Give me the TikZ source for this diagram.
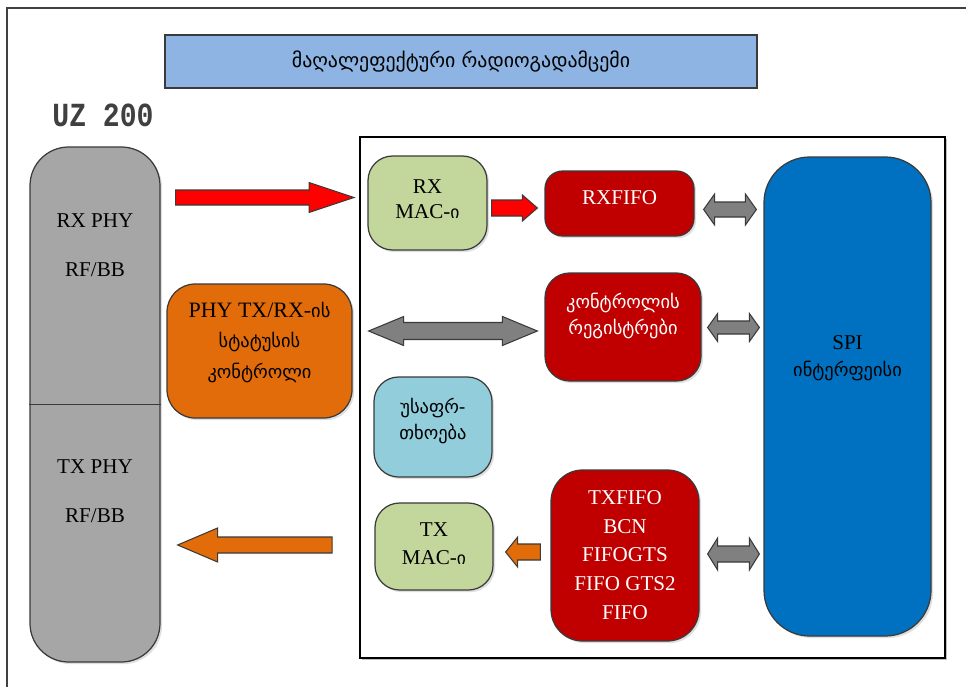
\documentclass[tikz,border=0pt]{standalone}
\usepackage{fontspec}
\setmainfont{Liberation Serif}
\newfontfamily\geo{DejaVu Sans}
\newfontfamily\monob{Liberation Mono}
\usetikzlibrary{calc,shadows}

\definecolor{titleblue}{HTML}{8DB4E2}
\definecolor{phygrey}{HTML}{A6A6A6}
\definecolor{statusorange}{HTML}{E36C0A}
\definecolor{macgreen}{HTML}{C3D69B}
\definecolor{fifored}{HTML}{C00000}
\definecolor{secblue}{HTML}{92CDDC}
\definecolor{spiblue}{HTML}{0070C0}
\definecolor{busgrey}{HTML}{808080}
\definecolor{edge}{HTML}{3A3A3A}

\tikzset{
  box/.style={draw=edge, line width=0.7pt, rounded corners=#1,
    drop shadow={shadow xshift=1.2pt, shadow yshift=-1.2pt, opacity=0.25},
    inner sep=0pt},
  box/.default=8pt,
  txt/.style={align=center, font=\fontsize{12pt}{15pt}\selectfont},
  wtxt/.style={txt, text=white},
  arrowbody/.style={draw=edge, line width=0.6pt, line join=miter},
}

% single block arrow: #1 tail, #2 tip, #3 half shaft, #4 half head, #5 signed head length
\newcommand{\blockarrow}[6]{%
  \path[arrowbody, fill=#6]
    ($(#1)+(0,-#3)$) -- ($(#2)+(-#5,-#3)$) -- ($(#2)+(-#5,-#4)$) -- (#2)
    -- ($(#2)+(-#5,#4)$) -- ($(#2)+(-#5,#3)$) -- ($(#1)+(0,#3)$) -- cycle;}
% double block arrow: #1 left tip, #2 right tip, #3 half shaft, #4 half head, #5 head length
\newcommand{\busarrow}[5]{%
  \path[arrowbody, fill=busgrey]
    (#1) -- ($(#1)+(#5,-#4)$) -- ($(#1)+(#5,-#3)$) -- ($(#2)+(-#5,-#3)$)
    -- ($(#2)+(-#5,-#4)$) -- (#2) -- ($(#2)+(-#5,#4)$) -- ($(#2)+(-#5,#3)$)
    -- ($(#1)+(#5,#3)$) -- ($(#1)+(#5,#4)$) -- cycle;}

\begin{document}
\begin{tikzpicture}[x=0.02cm, y=-0.02cm]
\useasboundingbox (0,0) rectangle (966,686);
\fill[white] (0,0) rectangle (966,686);

% outer frame (left and top edges only)
\draw[line width=1pt, black!75] (7,700) -- (7,8) -- (980,8);

% heading
\node[draw=edge, line width=1pt, fill=titleblue, minimum width=592*0.02cm,
  minimum height=53*0.02cm, inner sep=0pt] (title) at (461,61.5)
  {\geo\fontsize{11.3pt}{14pt}\selectfont მაღალეფექტური რადიოგადამცემი};

\node[font=\monob\bfseries\fontsize{16pt}{18pt}\selectfont, text=black!75, yscale=1.2] (uz) at (103,115) {UZ 200};

% PHY column
\node[box=22pt, fill=phygrey, minimum width=130*0.02cm, minimum height=515*0.02cm] (phy) at (95,404.5) {};
\draw[edge, line width=0.7pt] (phy.west) -- (phy.east);
\node[txt, font=\fontsize{12pt}{28pt}\selectfont] (rxphy) at (95,245.5) {RX PHY\\RF/BB};
\node[txt, font=\fontsize{12pt}{28pt}\selectfont] (txphy) at (95,491) {TX PHY\\RF/BB};

% chip frame
\node[draw=black, line width=1.1pt, minimum width=585*0.02cm, minimum height=521*0.02cm,
  drop shadow={shadow xshift=1pt, shadow yshift=-1pt, opacity=0.5}, fill=white] (chip) at (652.5,397.5) {};

% blocks inside the chip
\node[box=14pt, fill=macgreen, minimum width=119*0.02cm, minimum height=94*0.02cm] (rxmac) at (427.5,203) {};
\node[txt, font=\fontsize{12pt}{14.5pt}\selectfont] (rxmact) at (427.5,199) {RX\\MAC-{\geo\fontsize{10pt}{12pt}\selectfont ი}};

\node[box=10pt, fill=fifored, minimum width=149*0.02cm, minimum height=65*0.02cm] (rxfifo) at (619.5,203.5) {};
\node[wtxt] (rxfifot) at (619.5,198) {RXFIFO};

\node[box=14pt, fill=fifored, minimum width=156*0.02cm, minimum height=108*0.02cm] (regs) at (623,327) {};
\node[wtxt, font=\geo\fontsize{10.5pt}{15pt}\selectfont] (regst) at (623,316) {კონტროლის\\რეგისტრები};

\node[box=14pt, fill=secblue, minimum width=118*0.02cm, minimum height=100*0.02cm] (sec) at (433,427) {};
\node[txt, font=\geo\fontsize{10.5pt}{15pt}\selectfont] (sect) at (433,421) {უსაფრ-\\თხოება};

\node[box=14pt, fill=macgreen, minimum width=118*0.02cm, minimum height=87*0.02cm] (txmac) at (434,546.5) {};
\node[txt, font=\fontsize{12pt}{16pt}\selectfont] (txmact) at (434,544) {TX\\MAC-{\geo\fontsize{10pt}{12pt}\selectfont ი}};

\node[box=18pt, fill=fifored, minimum width=148*0.02cm, minimum height=171*0.02cm] (txfifo) at (625,555.5) {};
\node[wtxt, font=\fontsize{12pt}{16.4pt}\selectfont] (txfifot) at (625,555) {TXFIFO\\BCN\\FIFOGTS\\FIFO GTS2\\FIFO};

\node[box=26pt, fill=spiblue, minimum width=167*0.02cm, minimum height=479*0.02cm] (spi) at (847.5,396.5) {};
\node[txt, font=\fontsize{12pt}{15.5pt}\selectfont] (spit) at (847.5,358.5) {SPI\\{\geo\fontsize{10.5pt}{12pt}\selectfont ინტერფეისი}};

% PHY status block
\node[box=16pt, fill=statusorange, minimum width=185*0.02cm, minimum height=134*0.02cm] (status) at (259.5,351) {};
\node[txt, font=\fontsize{12.5pt}{17.6pt}\selectfont] (statust) at (259.5,342.5)
  {PHY TX/RX-{\geo\fontsize{10.5pt}{12pt}\selectfont ის}\\{\geo\fontsize{10.5pt}{12pt}\selectfont სტატუსის}\\{\geo\fontsize{10.5pt}{12pt}\selectfont კონტროლი}};

% arrow end points
\coordinate (rxin)  at ($(phy.east |- 0,197.5)+(15,0)$);
\coordinate (rxout) at ($(chip.west |- 0,197.5)+(-5,0)$);
\coordinate (macA)  at ($(rxmac.east |- 0,208)+(4,0)$);
\coordinate (macB)  at ($(rxfifo.west |- 0,208)+(-7,0)$);
\coordinate (b1A)   at ($(rxfifo.east |- 0,209.5)+(9,0)$);
\coordinate (b1B)   at ($(spi.west |- 0,209.5)+(-7,0)$);
\coordinate (stA)   at ($(status.east |- 0,331)+(16,0)$);
\coordinate (stB)   at ($(regs.west |- 0,331)+(-7,0)$);
\coordinate (b2A)   at ($(regs.east |- 0,327.5)+(6,0)$);
\coordinate (b2B)   at ($(spi.west |- 0,327.5)+(-4,0)$);
\coordinate (txA)   at ($(txfifo.west |- 0,552)+(-10,0)$);
\coordinate (txB)   at ($(txmac.east |- 0,552)+(12,0)$);
\coordinate (b3A)   at ($(txfifo.east |- 0,554)+(8,0)$);
\coordinate (b3B)   at ($(spi.west |- 0,554)+(-4,0)$);
\coordinate (toA)   at ($(chip.west |- 0,545)+(-27,0)$);
\coordinate (toB)   at ($(phy.east |- 0,545)+(17,0)$);

% data flow arrows
\blockarrow{rxin}{rxout}{7.5}{15}{45}{red}
\blockarrow{macA}{macB}{8}{13}{15}{red}
\blockarrow{txA}{txB}{8}{15}{-12}{statusorange}
\blockarrow{toA}{toB}{8}{17}{-40}{statusorange}
\busarrow{stA}{stB}{8.5}{14.5}{35}
\busarrow{b1A}{b1B}{7.5}{15.5}{11}
\busarrow{b2A}{b2B}{6.5}{14}{10}
\busarrow{b3A}{b3B}{8}{16}{10}
\end{tikzpicture}
\end{document}
